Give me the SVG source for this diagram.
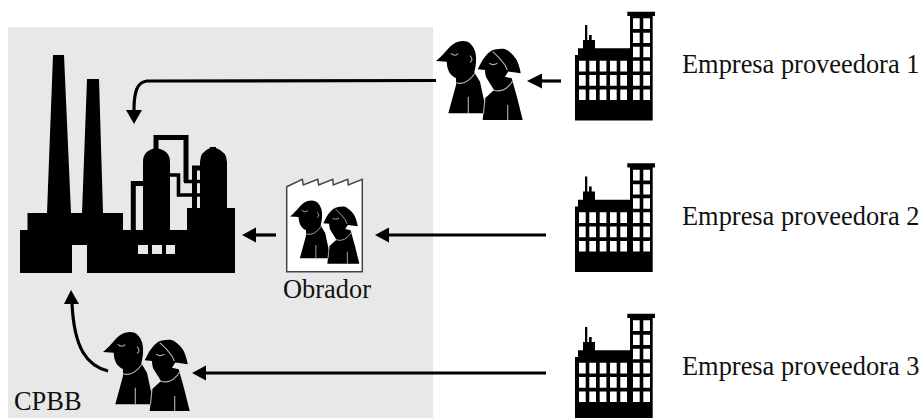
<svg xmlns="http://www.w3.org/2000/svg" width="924" height="418" viewBox="0 0 924 418">
<style>
text{font-family:"Liberation Serif","Times New Roman",serif;font-size:26.4px;fill:#111}
.ln{fill:none;stroke:#000;stroke-width:3.2}
.hd{fill:#000}
.w{fill:none;stroke:#b4b4b4;stroke-width:1.1}
.pipe{fill:none;stroke:#000;stroke-width:5}
.pipe2{fill:none;stroke:#000;stroke-width:3.6}
</style>
<defs>
<g id="people">
<path d="M436 61C441 57 444 53 447 50C451 45 456 41 463 41C470 41 473 46 475 51C477 58 476 66 474.300 72.300L480 81.700L485 105L483.500 113.300H448.300L456 85V78.300C452 76 449 73 448.300 70C447 67 447 64 446.700 61.700Z" fill="#000"/>
<path d="M477.700 69.300C480 65 482 60 485 56.700C488 53 491 50 495 49.500C500 48.500 504 48 507 50C512 53 515 57 516.700 60C519 65 520 69 520.700 73.300L508.300 71.500L505 76.700L511.700 78.300L517.300 98.300L522.700 120H482.700L485 98.300L494 90L486.700 78.300C485.500 76 485 73 485 70Z" fill="#000"/>
<path class="w" d="M456 82.700Q466 86 475 73.300M493.300 90Q505 94 513.300 80M468.300 96.700V113.300M507.700 105V120M492.700 51.700Q500 58 505 65L507.300 70M450.700 53.300Q455 57 458.300 53.700M489.300 63.300Q493 66 497.300 63.300M470 55.700Q474 60 470 62.300M485 98.300L483.500 113.300"/>
</g>
<g id="building">
<path d="M575 120.500V55H578V48.300H583V40H585V25H587.300V40H589V35H591.700V40H595V48.300H630V16H627.300V11.700H655V16H652.700V120.500Z" fill="#000"/>
<path fill="#fff" d="M579 60.700h6.700v10.800h-6.700zM589.300 60.700h6.700v10.800h-6.700zM599.700 60.700h6.700v10.800h-6.700zM610 60.700h6.700v10.800h-6.700zM620.300 60.700h6.700v10.800h-6.700zM579 75h6.700v10.800h-6.700zM589.300 75h6.700v10.800h-6.700zM599.700 75h6.700v10.800h-6.700zM610 75h6.700v10.800h-6.700zM620.300 75h6.700v10.800h-6.700zM579 89.500h6.700v10.500h-6.700zM589.300 89.500h6.700v10.500h-6.700zM599.700 89.500h6.700v10.500h-6.700zM610 89.500h6.700v10.500h-6.700zM620.300 89.500h6.700v10.500h-6.700zM633 18.300h6.700v10.700h-6.700zM643.300 18.300h6.700v10.700h-6.700zM633 32.700h6.700v10.300h-6.700zM643.300 32.700h6.700v10.300h-6.700zM633 46.700h6.700v10.600h-6.700zM643.300 46.700h6.700v10.600h-6.700zM633 60.700h6.700v10.800h-6.700zM643.300 60.700h6.700v10.800h-6.700zM633 75h6.700v10.800h-6.700zM643.300 75h6.700v10.800h-6.700zM633 89.500h6.700v10.500h-6.700zM643.300 89.500h6.700v10.500h-6.700z"/>
</g>
</defs>
<rect id="background" x="8" y="27" width="425" height="391" fill="#e8e8e8"/>
<g id="planta">
<path fill="#000" d="M20 273V230H27.500V213H47L53 55H64L71 213H82L87 79H99L103 213H123V230H143V162Q143 150 156 148Q170 150 170 162V230H187V208H200V162Q200 152 210 148V147H216V148Q227 152 227 162V208H235V273H87V245H72V273Z"/>
<path class="pipe" d="M133.300 230V183.500H143M156 150V137.500H186V182"/>
<path class="pipe2" d="M170 175H178.500V195H200M184 181.500H200"/>
<path class="pipe" d="M194.500 208V168H200"/>
<path fill="#e8e8e8" d="M138 245h10v9h-10zM152 245h10v9h-10zM166 245h9v9h-9z"/>
</g>
<g id="cuadrilla-1"><use href="#people"/></g>
<g id="obrador">
<path fill="#fff" stroke="#444" stroke-width="1.500" d="M286.700 186.700L302.300 179.300L303.300 185L317.700 179.300L318.700 185L332.700 179.300L333.300 185L347.700 179.300L348.300 185L362.300 179.300V271.700H286.700Z"/>
<use href="#people" transform="translate(290 200.500) scale(.8) translate(-436 -41)"/>
<text x="283" y="298">Obrador</text>
</g>
<g id="cuadrilla-cpbb"><use href="#people" transform="translate(-333 291)"/><text x="14" y="410">CPBB</text></g>
<g id="empresa-1"><use href="#building"/><text x="682" y="73">Empresa proveedora 1</text></g>
<g id="empresa-2"><use href="#building" transform="translate(0 151.500)"/><text x="682" y="225">Empresa proveedora 2</text></g>
<g id="empresa-3"><use href="#building" transform="translate(0 302)"/><text x="682" y="375">Empresa proveedora 3</text></g>
<g id="connectors">
<path class="ln" d="M436 80.500L147 81C137 82 134 92 134 110"/><path class="hd" d="M134 124L126 110H142Z"/>
<path class="ln" d="M561 81H541"/><path class="hd" d="M527 81L542 73.500V88.500Z"/>
<path class="ln" d="M276 235H255"/><path class="hd" d="M242 235L256 227.500V242.500Z"/>
<path class="ln" d="M546 235H388"/><path class="hd" d="M375 235L389 227.500V242.500Z"/>
<path class="ln" d="M546 373H205"/><path class="hd" d="M192 373L206 365.500V380.500Z"/>
<path class="ln" d="M108 371C88 366 74 350 72 303"/><path class="hd" d="M71 290L64 304H79Z"/>
</g>
</svg>
